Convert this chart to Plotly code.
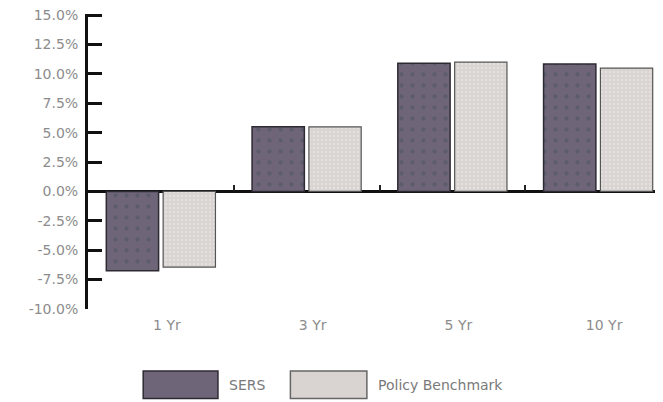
import plotly.graph_objects as go

categories = ["1 Yr", "3 Yr", "5 Yr", "10 Yr"]
series_names = ["SERS", "Policy Benchmark"]
sers_values = [-6.75, 5.5, 10.9, 10.85]
benchmark_values = [-6.45, 5.5, 11.0, 10.5]
y_ticks = [-10.0, -7.5, -5.0, -2.5, 0.0, 2.5, 5.0, 7.5, 10.0, 12.5, 15.0]

sers_color = "#6e6678"
bench_color = "#d9d4d2"
text_color = "#8c8c8c"
font_family = "DejaVu Sans"

fig = go.Figure()
fig.add_trace(go.Bar(
    x=categories, y=sers_values, name=series_names[0],
    marker=dict(color=sers_color,
                line=dict(color="#2e2a33", width=1.5),
                pattern=dict(shape=".", fgcolor="#4a5262", bgcolor=sers_color,
                             size=11, solidity=0.12)),
    showlegend=False,
))
fig.add_trace(go.Bar(
    x=categories, y=benchmark_values, name=series_names[1],
    marker=dict(color=bench_color,
                line=dict(color="#555", width=1.2),
                pattern=dict(shape=".", fgcolor="#ecebe9", bgcolor=bench_color,
                             size=4, solidity=0.3)),
    showlegend=False,
))

n = len(categories)
x_range = [-0.5, n - 0.555]

# category-boundary tick marks on the zero line
fig.add_trace(go.Scatter(x=[None], y=[None], xaxis="x2", showlegend=False, hoverinfo="skip"))

fig.update_layout(
    width=655, height=394,
    margin=dict(l=80, r=0, t=6, b=93),
    paper_bgcolor="white", plot_bgcolor="white",
    barmode="group", bargap=0.22, bargroupgap=0.08,
    font=dict(family=font_family, color=text_color, size=14),
    xaxis=dict(
        type="category", range=x_range,
        showline=False, showgrid=False, zeroline=False,
        ticks="outside", ticklen=3, tickcolor="rgba(0,0,0,0)",
        tickfont=dict(size=14, color=text_color),
        ticklabelshift=6,
    ),
    xaxis2=dict(
        overlaying="x", anchor="free", position=(0 - y_ticks[0]) / (y_ticks[-1] - y_ticks[0]),
        type="linear", range=x_range,
        tickvals=[i + 0.5 for i in range(n - 1)],
        ticks="inside", ticklen=6, tickwidth=1.5, tickcolor="#222",
        showticklabels=False, showline=False, showgrid=False, zeroline=False,
    ),
    yaxis=dict(
        range=[y_ticks[0] - 0.01, y_ticks[-1] + 0.1],
        tickvals=y_ticks,
        ticktext=[f"{v:.1f}%" for v in y_ticks],
        ticklabeloverflow="allow",
        showline=True, linecolor="#111", linewidth=3,
        ticks="inside", ticklen=14, tickwidth=3, tickcolor="#111",
        showgrid=False,
        zeroline=True, zerolinecolor="#111", zerolinewidth=3,
        tickfont=dict(size=14, color=text_color),
        ticklabelstandoff=4,
    ),
)

# custom legend with wide swatches
legend_items = [
    (series_names[0], sers_color, "#2e2a33", 0.096, 0.226),
    (series_names[1], bench_color, "#666", 0.352, 0.485),
]
for name, fill, edge, x0, x1 in legend_items:
    fig.add_shape(type="rect", xref="paper", yref="paper",
                  x0=x0, x1=x1, y0=-0.303, y1=-0.21,
                  fillcolor=fill, line=dict(color=edge, width=1.5))
    fig.add_annotation(xref="paper", yref="paper", x=x1 + 0.015, y=-0.2565,
                       text=name, showarrow=False, xanchor="left", yanchor="middle",
                       font=dict(size=14, color="#7a7a7a", family=font_family))

fig.write_html("out.html")
